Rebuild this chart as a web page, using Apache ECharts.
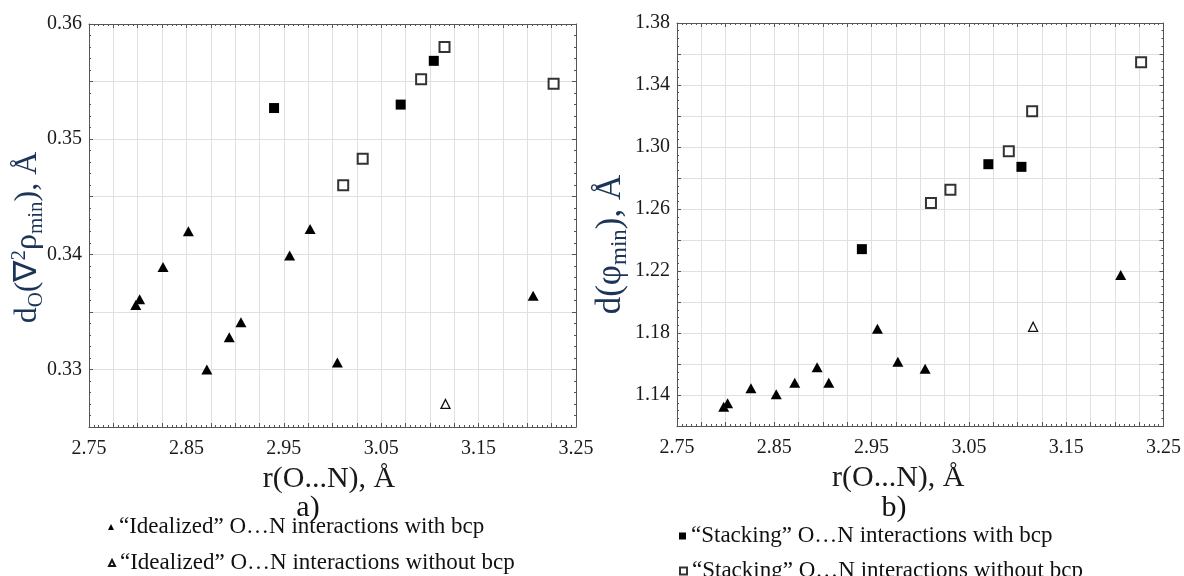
<!DOCTYPE html>
<html>
<head>
<meta charset="utf-8">
<script src="https://cdn.jsdelivr.net/npm/echarts@6/dist/echarts.min.js"></script>
<style>
html, body { margin: 0; padding: 0; background: #fff; }
#chart { width: 1184px; height: 576px; }
</style>
</head>
<body>
<div id="chart"></div>
<script>
// series names (legend)
const names = [
    '“Idealized” O…N interactions with bcp',
    '“Idealized” O…N interactions without bcp',
    '“Stacking” O…N interactions with bcp',
    '“Stacking” O…N interactions without bcp'
];

// r(O...N), Å for each group
const idealBcpR = [2.798, 2.802, 2.826, 2.852, 2.871, 2.894, 2.906, 2.956, 2.977, 3.005, 3.206];
const idealNoBcpR = [3.116];
const stackBcpR = [2.940, 3.070, 3.104];
const stackNoBcpR = [3.011, 3.031, 3.091, 3.115, 3.227];

// panel a) dO(∇²ρmin), Å
const idealBcpLap = [0.3356, 0.3361, 0.3389, 0.3420, 0.3300, 0.3328, 0.3341, 0.3399, 0.3422, 0.3306, 0.3364];
const idealNoBcpLap = [0.3270];
const stackBcpLap = [0.3527, 0.3530, 0.3568];
const stackNoBcpLap = [0.3460, 0.3483, 0.3552, 0.3580, 0.3548];

// panel b) d(φmin), Å
const idealBcpPhi = [1.1325, 1.1347, 1.1443, 1.1405, 1.1479, 1.1579, 1.1479, 1.1828, 1.1615, 1.1570, 1.2174];
const idealNoBcpPhi = [1.1840];
const stackBcpPhi = [1.2341, 1.2889, 1.2872];
const stackNoBcpPhi = [1.2638, 1.2724, 1.2973, 1.3231, 1.3547];

const serif = "'Liberation Serif', 'Times New Roman', serif";
const axisColor = '#555';
const gridColor = '#e0e0e0';
const titleBlue = '#1c3557';

const zip = (xs, ys) => xs.map((x, i) => [x, ys[i]]);

//x轴（主轴在下，镜像轴在上）
function xAxisFor(gridIndex, main, padRight) {
    return {
        type: 'value', gridIndex: gridIndex, position: main ? 'bottom' : 'top',
        min: 2.75, max: 3.25, interval: 0.025,
        axisLine: { show: true, onZero: false, lineStyle: { color: axisColor } },
        axisTick: { show: true, inside: true, length: 4, lineStyle: { color: axisColor } },
        minorTick: { show: true, splitNumber: 5, length: 2, lineStyle: { color: axisColor } },
        splitLine: { show: main, lineStyle: { color: gridColor } },
        axisLabel: {
            show: main, margin: 12, fontSize: 20, fontFamily: serif, color: '#1a1a1a',
            formatter: v => {
                const k = (v - 2.75) / 0.1;
                return Math.abs(k - Math.round(k)) < 1e-6 ? v.toFixed(2) : '';
            }
        },
        name: main ? 'r(O...N), Å' : '',
        nameLocation: 'middle', nameGap: 34,
        nameTextStyle: { fontSize: 30, fontFamily: serif, color: '#1a1a1a', padding: [0, padRight, 0, 0] }
    };
}

//y轴（主轴在左，镜像轴在右）
function yAxisFor(gridIndex, main, min, max, interval, minorSplit, showLabel, name, gap, shift, rich) {
    return {
        type: 'value', gridIndex: gridIndex, position: main ? 'left' : 'right',
        min: min, max: max, interval: interval,
        axisLine: { show: true, onZero: false, lineStyle: { color: axisColor } },
        axisTick: { show: true, inside: true, length: 4, lineStyle: { color: axisColor } },
        minorTick: { show: true, splitNumber: minorSplit, length: 2, lineStyle: { color: axisColor } },
        splitLine: { show: main, lineStyle: { color: gridColor } },
        axisLabel: {
            show: main, margin: 7, fontSize: 20, fontFamily: serif, color: '#1a1a1a',
            formatter: v => showLabel(v) ? v.toFixed(2) : ''
        },
        name: main ? name : '',
        nameLocation: 'middle', nameRotate: 90, nameGap: gap,
        nameMoveOverlap: false,
        nameTextStyle: { rich: rich, padding: [0, shift, 0, 0] }
    };
}

function richTitle(big, small) {
    return {
        m: { fontSize: big, fontFamily: serif, color: titleBlue, lineHeight: big + 6 },
        s: { fontSize: small, fontFamily: serif, color: titleBlue, lineHeight: small + 3, verticalAlign: 'bottom' },
        p: { fontSize: small, fontFamily: serif, color: titleBlue, lineHeight: small + 3, verticalAlign: 'top' }
    };
}

const isInt = k => Math.abs(k - Math.round(k)) < 1e-6;

const markerStyles = [
    { symbol: 'triangle', symbolSize: [11, 10], itemStyle: { color: '#000', opacity: 1 } },
    { symbol: 'triangle', symbolSize: [9, 9], itemStyle: { color: '#fff', borderColor: '#111', borderWidth: 1.3, opacity: 1 } },
    { symbol: 'rect', symbolSize: 10, itemStyle: { color: '#000', opacity: 1 } },
    { symbol: 'rect', symbolSize: 10, itemStyle: { color: '#fff', borderColor: '#333', borderWidth: 2, opacity: 1 } }
];

function makeSeries(axisIndex, groups) {
    return groups.map((data, i) => Object.assign({
        name: names[i], type: 'scatter',
        xAxisIndex: axisIndex, yAxisIndex: axisIndex,
        data: data, z: 3
    }, markerStyles[i]));
}

// one legend per item, placed under each panel
function legendItem(name, left, top, size) {
    return {
        data: [name], left: left, top: top, orient: 'vertical',
        itemWidth: size, itemHeight: size, selectedMode: false, padding: 0,
        textStyle: { fontSize: 23, fontFamily: serif, color: '#111', lineHeight: 24 }
    };
}

let mychart = echarts.init(document.getElementById('chart'));
let option = {
    animation: false,
    backgroundColor: '#fff',
    grid: [
        { left: 89, top: 24, width: 487, height: 403 },
        { left: 677, top: 23, width: 487, height: 403 }
    ],
    xAxis: [xAxisFor(0, true, 7), xAxisFor(0, false, 0), xAxisFor(1, true, 44), xAxisFor(1, false, 0)],
    yAxis: [
        yAxisFor(0, true, 0.325, 0.36, 0.005, 5, v => isInt(v * 100),
            '{m|d}{s|O}{m|(∇}{p|2}{m|ρ}{s|min}{m|), Å}', 42, 24, richTitle(32, 21)),
        yAxisFor(0, false, 0.325, 0.36, 0.005, 5, () => false, '', 0, 0, null),
        yAxisFor(1, true, 1.12, 1.38, 0.02, 4, v => isInt((v - 1.14) / 0.04),
            '{m|d(φ}{s|min}{m|), Å}', 46, 40, richTitle(35, 23)),
        yAxisFor(1, false, 1.12, 1.38, 0.02, 4, () => false, '', 0, 0, null)
    ],
    legend: [
        legendItem(names[0], 108, 515, 6),
        legendItem(names[1], 108, 551, 6),
        legendItem(names[2], 679, 524, 7),
        legendItem(names[3], 679, 559, 7)
    ],
    graphic: [
        { type: 'text', x: 308, y: 508, style: { text: 'a)', fontSize: 30, fontFamily: serif, fill: '#111', align: 'center', verticalAlign: 'middle' } },
        { type: 'text', x: 894, y: 508, style: { text: 'b)', fontSize: 30, fontFamily: serif, fill: '#111', align: 'center', verticalAlign: 'middle' } }
    ],
    series: [].concat(
        makeSeries(0, [zip(idealBcpR, idealBcpLap), zip(idealNoBcpR, idealNoBcpLap), zip(stackBcpR, stackBcpLap), zip(stackNoBcpR, stackNoBcpLap)]),
        makeSeries(2, [zip(idealBcpR, idealBcpPhi), zip(idealNoBcpR, idealNoBcpPhi), zip(stackBcpR, stackBcpPhi), zip(stackNoBcpR, stackNoBcpPhi)])
    )
};
mychart.setOption(option);
window.addEventListener('resize', () => {
    mychart.resize();
});
</script>
</body>
</html>
